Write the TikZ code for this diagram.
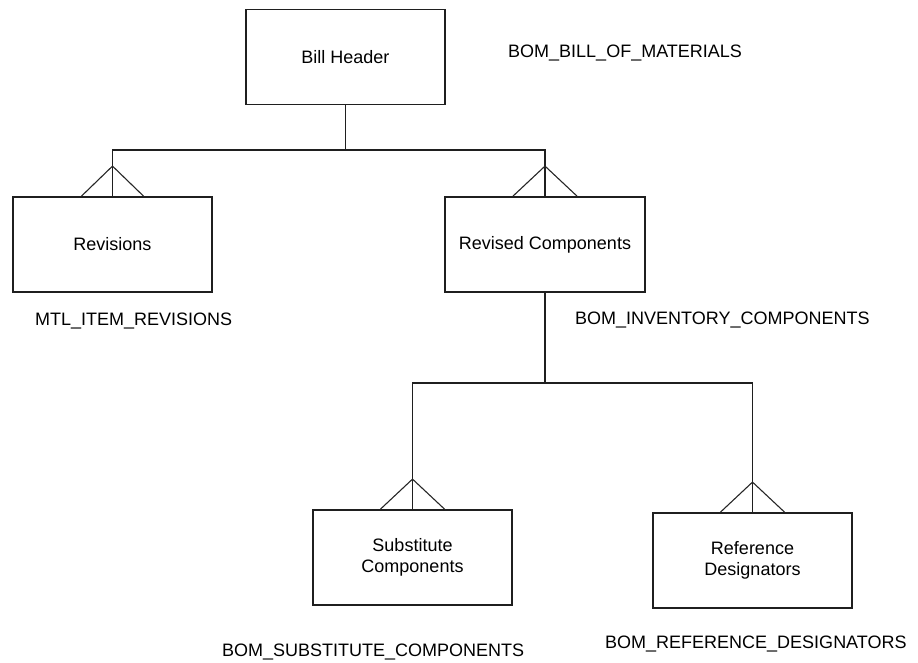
\documentclass[tikz,border=0pt]{standalone}
\usepackage{fontspec}
\setmainfont{Liberation Sans}
\begin{document}
\begin{tikzpicture}[x=1pt,y=1pt,
  entity/.style={draw=black!88, line width=1.8pt, minimum width=199pt, minimum height=95pt,
    inner sep=0pt, align=center, font=\fontsize{18}{20.5}\selectfont},
  tablename/.style={anchor=west, inner sep=0pt, font=\fontsize{18}{20.5}\selectfont},
  link/.style={draw=black!88, line width=1.8pt},
  foot/.style={draw=black!85, line width=1.1pt}]
\useasboundingbox (0,0) rectangle (918,-662);

% entities
\node[entity] (bh)  at (345.5,-57)    {Bill Header};
\node[entity] (rev) at (112.5,-244.5) {Revisions};
\node[entity, minimum width=200pt] (rc) at (545,-244.5) {Revised Components};
\node[entity] (sub) at (412.5,-557.5) {Substitute\\Components};
\node[entity] (ref) at (752.5,-560.5) {Reference\\Designators};

% table names
\node[tablename] (tbh)  at (508,-53)  {BOM\_BILL\_OF\_MATERIALS};
\node[tablename] (trev) at (35,-321)  {MTL\_ITEM\_REVISIONS};
\node[tablename] (trc)  at (575,-320) {BOM\_INVENTORY\_COMPONENTS};
\node[tablename] (tsub) at (222,-652) {BOM\_SUBSTITUTE\_COMPONENTS};
\node[tablename] (tref) at (605,-644) {BOM\_REFERENCE\_DESIGNATORS};

% one-to-many relationships
\draw[link] (bh.south) |- ([yshift=46pt]rev.north) -- (rev.north);
\draw[link] (bh.south) |- ([yshift=46pt]rc.north) -- (rc.north);
\draw[link] (rc.south) |- ([yshift=126pt]sub.north) -- (sub.north);
\draw[link] (rc.south) |- ([yshift=129pt]ref.north) -- (ref.north);

% crow's feet on the "many" ends
\foreach \e/\s in {rev/31, rc/32, sub/32, ref/32}{
  \draw[foot] ([xshift=-\s pt]\e.north) -- ([yshift=30pt]\e.north) -- ([xshift=\s pt]\e.north);
}
\end{tikzpicture}
\end{document}
